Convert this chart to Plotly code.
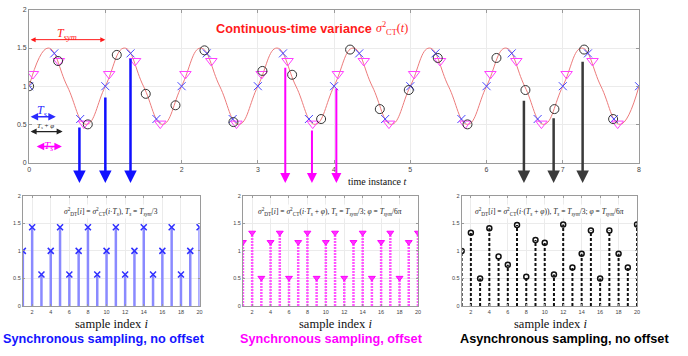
import plotly.graph_objects as go

# ---------------- data ----------------
# continuous-time variance: readings at quarter periods (T_sym = 1)
ct_t = [0, 0.25, 0.5, 0.75, 1, 1.25, 1.5, 1.75, 2, 2.25, 2.5, 2.75, 3, 3.25, 3.5, 3.75,
        4, 4.25, 4.5, 4.75, 5, 5.25, 5.5, 5.75, 6, 6.25, 6.5, 6.75, 7, 7.25, 7.5, 7.75, 8]
ct_v = [1, 1.5, 1, 0.5, 1, 1.5, 1, 0.5, 1, 1.5, 1, 0.5, 1, 1.5, 1, 0.5,
        1, 1.5, 1, 0.5, 1, 1.5, 1, 0.5, 1, 1.5, 1, 0.5, 1, 1.5, 1, 0.5, 1]

# synchronous sampling, no offset (blue x)
sync_t = [0, 0.33, 0.67, 1, 1.33, 1.67, 2, 2.33, 2.67, 3, 3.33, 3.67, 4, 4.33, 4.67,
          5, 5.33, 5.67, 6, 6.33, 6.67, 7, 7.33, 7.67, 8]
sync_v = [1, 1.43, 0.57, 1, 1.43, 0.57, 1, 1.43, 0.57, 1, 1.43, 0.57, 1, 1.43, 0.57,
          1, 1.43, 0.57, 1, 1.43, 0.57, 1, 1.43, 0.57, 1]

# synchronous sampling with offset (magenta triangles)
off_t = [0.05, 0.39, 0.72, 1.05, 1.39, 1.72, 2.05, 2.39, 2.72, 3.05, 3.39, 3.72,
         4.05, 4.39, 4.72, 5.05, 5.39, 5.72, 6.05, 6.39, 6.72, 7.05, 7.39, 7.72]
off_v = [1.16, 1.33, 0.51, 1.16, 1.33, 0.51, 1.16, 1.33, 0.51, 1.16, 1.33, 0.51,
         1.16, 1.33, 0.51, 1.16, 1.33, 0.51, 1.16, 1.33, 0.51, 1.16, 1.33, 0.51]

# asynchronous sampling (black circles)
asy_t = [0, 0.38, 0.77, 1.15, 1.53, 1.92, 2.3, 2.68, 3.06, 3.45, 3.83, 4.21, 4.6,
         4.98, 5.36, 5.75, 6.13, 6.51, 6.89, 7.28, 7.66]
asy_v = [1, 1.33, 0.5, 1.41, 0.9, 0.75, 1.47, 0.53, 1.2, 1.15, 0.57, 1.48, 0.7,
         0.95, 1.37, 0.5, 1.37, 0.95, 0.7, 1.48, 0.57]

sample_idx = [1, 2, 3, 4, 5, 6, 7, 8, 9, 10, 11, 12, 13, 14, 15, 16, 17, 18, 19, 20]

# down arrows (time, start value) from top panel to bottom panels
blue_arrow_t = [0.66, 1.0, 1.33]
blue_arrow_v = [0.48, 0.87, 1.38]
mag_arrow_t = [3.36, 3.71, 4.03]
mag_arrow_v = [1.26, 0.44, 0.99]
blk_arrow_t = [6.49, 6.88, 7.26]
blk_arrow_v = [0.83, 0.60, 1.34]
arrow_tip = -0.27

BLUE = "#2b2bff"
MAG = "#ff00ff"
BLK = "#222222"
RED = "#ff1a1a"
SERIF = "Liberation Serif, Times New Roman, serif"
SANS = "Liberation Sans, Arial, sans-serif"

fig = go.Figure()

# ---------------- top panel ----------------
fig.add_trace(go.Scatter(x=ct_t, y=ct_v, mode="lines", line=dict(color="#ec7b7b", width=1, shape="spline", smoothing=1.3),
                         xaxis="x", yaxis="y", hoverinfo="skip"))
fig.add_trace(go.Scatter(x=sync_t, y=sync_v, mode="markers", xaxis="x", yaxis="y",
                         marker=dict(symbol="x-thin-open", size=8, color="#4646ff",
                                     line=dict(color="#4646ff", width=1))))
fig.add_trace(go.Scatter(x=off_t, y=off_v, mode="markers", xaxis="x", yaxis="y",
                         marker=dict(symbol="triangle-down-open", size=10, color="#ff40ff",
                                     line=dict(color="#ff40ff", width=1))))
fig.add_trace(go.Scatter(x=asy_t, y=asy_v, mode="markers", xaxis="x", yaxis="y",
                         marker=dict(symbol="circle-open", size=9, color="#333333",
                                     line=dict(color="#333333", width=1))))


def stems(xs, ys):
    sx, sy = [], []
    for a, b in zip(xs, ys):
        sx += [a, a, None]
        sy += [0, b, None]
    return sx, sy


# ---------------- bottom panels ----------------
sx, sy = stems(sample_idx, sync_v[:20])
fig.add_trace(go.Scatter(x=sx, y=sy, mode="lines", xaxis="x2", yaxis="y2",
                         line=dict(color="#8a8aff", width=2.5)))
fig.add_trace(go.Scatter(x=sample_idx, y=sync_v[:20], mode="markers", xaxis="x2", yaxis="y2",
                         marker=dict(symbol="x-thin-open", size=6, color="#3030ff",
                                     line=dict(color="#3030ff", width=1.5))))

sx, sy = stems(sample_idx, off_v[:20])
fig.add_trace(go.Scatter(x=sx, y=sy, mode="lines", xaxis="x3", yaxis="y3",
                         line=dict(color="#ff55ff", width=2.5, dash="2px,1px")))
fig.add_trace(go.Scatter(x=sample_idx, y=off_v[:20], mode="markers", xaxis="x3", yaxis="y3",
                         marker=dict(symbol="triangle-down", size=6, color="#ff33ff",
                                     line=dict(color="#ff00ff", width=1))))

sx, sy = stems(sample_idx, asy_v[:20])
fig.add_trace(go.Scatter(x=sx, y=sy, mode="lines", xaxis="x4", yaxis="y4",
                         line=dict(color="#111111", width=2, dash="3px,2px")))
fig.add_trace(go.Scatter(x=sample_idx, y=asy_v[:20], mode="markers", xaxis="x4", yaxis="y4",
                         marker=dict(symbol="circle-open", size=5, color="#111111",
                                     line=dict(color="#111111", width=1.5))))

W, H = 688, 356


def px(x0, x1):
    return [x0 / W, x1 / W]


def py(ytop, ybot):
    return [1 - ybot / H, 1 - ytop / H]


axis_common = dict(showline=True, mirror="ticks", linecolor="#9a9a9a", linewidth=1,
                   ticks="inside", tickcolor="#9a9a9a", showgrid=True, gridcolor="#ebebeb",
                   zeroline=False, tickfont=dict(size=7, color="#444444", family=SANS))

layout = dict(
    width=W, height=H, margin=dict(l=0, r=0, t=0, b=0),
    paper_bgcolor="white", plot_bgcolor="white", showlegend=False,
    xaxis=dict(domain=px(27.3, 641.7), range=[0, 8], dtick=1, ticklen=3, anchor="y", **axis_common),
    yaxis=dict(domain=py(6, 161.7), range=[0, 2], dtick=0.5, ticklen=3, anchor="x", **axis_common),
)
bottom_x = [(21, 199), (242.7, 419), (463, 639.7)]
for k, (a, b) in enumerate(bottom_x, start=2):
    ac = dict(axis_common)
    ac["tickfont"] = dict(size=5.5, color="#444444", family=SANS)
    layout[f"xaxis{k}"] = dict(domain=px(a, b), range=[1, 20], tickvals=[2, 4, 6, 8, 10, 12, 14, 16, 18, 20],
                               ticklen=2, anchor=f"y{k}", **ac)
    layout[f"yaxis{k}"] = dict(domain=py(195.7, 308), range=[0, 2], dtick=0.5, ticklen=2,
                               anchor=f"x{k}", **ac)
fig.update_layout(**layout)

ann = []


def arrow(t, v, color, width):
    ann.append(dict(x=t, y=arrow_tip, ax=t, ay=v, xref="x", yref="y", axref="x", ayref="y",
                    showarrow=True, arrowhead=2, arrowsize=1, arrowwidth=width, arrowcolor=color, text=""))


for t, v in zip(blue_arrow_t, blue_arrow_v):
    arrow(t, v, "#1010ff", 2.5)
for t, v in zip(mag_arrow_t, mag_arrow_v):
    arrow(t, v, MAG, 2)
for t, v in zip(blk_arrow_t, blk_arrow_v):
    arrow(t, v, "#3a3a3a", 2.5)


def dbl_arrow(x0, x1, y, color, width=1.5):
    ann.append(dict(x=x1, y=y, ax=x0, ay=y, xref="x", yref="y", axref="x", ayref="y", showarrow=True,
                    arrowhead=2, startarrowhead=2, arrowside="end+start", arrowsize=1, startarrowsize=1,
                    arrowwidth=width, arrowcolor=color, text=""))


dbl_arrow(0.0, 1.0, 1.61, RED, 1)
dbl_arrow(0.0, 0.35, 0.60, BLUE, 1.5)
dbl_arrow(0.0, 0.44, 0.405, BLK, 1.2)
dbl_arrow(0.08, 0.43, 0.21, MAG, 1.5)

ann += [
    dict(x=0.5, y=1.69, xref="x", yref="y", text="<i>T<sub>sym</sub></i>", showarrow=False,
         font=dict(family=SERIF, size=12, color=RED)),
    dict(x=0.17, y=0.67, xref="x", yref="y", text="<i>T<sub>s</sub></i>", showarrow=False,
         font=dict(family=SERIF, size=12, color=BLUE)),
    dict(x=0.22, y=0.48, xref="x", yref="y", text="<i>T<sub>s</sub></i> + <i>φ</i>", showarrow=False,
         font=dict(family=SERIF, size=7, color=BLK)),
    dict(x=0.25, y=0.22, xref="x", yref="y", text="<i>T<sub>s</sub></i>", showarrow=False,
         font=dict(family=SERIF, size=11, color=MAG)),
    dict(x=294 / W, y=1 - 25 / H, xref="paper", yref="paper", xanchor="center", yanchor="middle",
         text="<b>Continuous-time variance</b>",
         showarrow=False, font=dict(family=SANS, size=12.7, color=RED)),
    dict(x=375 / W, y=1 - 25 / H, xref="paper", yref="paper", xanchor="left", yanchor="middle",
         text="<i>σ</i><sup>2</sup><sub>CT</sub>(<i>t</i>)", showarrow=False,
         font=dict(family=SERIF, size=12, color=RED)),
    dict(x=378 / W, y=1 - 181 / H, xref="paper", yref="paper", xanchor="center", yanchor="middle",
         text="time instance <i>t</i>",
         showarrow=False, font=dict(family=SERIF, size=10, color="#111111")),
]

formulas = [
    "<i>σ</i><sup>2</sup><sub>DT</sub>[<i>i</i>] = <i>σ</i><sup>2</sup><sub>CT</sub>(<i>i</i>·<i>T<sub>s</sub></i>), "
    "<i>T<sub>s</sub></i> = <i>T<sub>sym</sub></i>/3",
    "<i>σ</i><sup>2</sup><sub>DT</sub>[<i>i</i>] = <i>σ</i><sup>2</sup><sub>CT</sub>(<i>i</i>·<i>T<sub>s</sub></i> + <i>φ</i>), "
    "<i>T<sub>s</sub></i> = <i>T<sub>sym</sub></i>/3; <i>φ</i> = <i>T<sub>sym</sub></i>/6<i>π</i>",
    "<i>σ</i><sup>2</sup><sub>DT</sub>[<i>i</i>] = <i>σ</i><sup>2</sup><sub>CT</sub>(<i>i</i>·(<i>T<sub>s</sub></i> + <i>φ</i>)), "
    "<i>T<sub>s</sub></i> = <i>T<sub>sym</sub></i>/3; <i>φ</i> = <i>T<sub>sym</sub></i>/6<i>π</i>",
]
titles = ["Synchronous sampling, no offset", "Synchronous sampling, offset", "Asynchronous sampling, no offset"]
title_colors = ["#1414ff", "#ff00ff", "#000000"]
title_x = [103, 332, 567]
label_x = [110, 336, 553]
for k, (a, b) in enumerate(bottom_x):
    ann.append(dict(x=(a + b) / 2 / W, y=1 - 212 / H, xref="paper", yref="paper", xanchor="center",
                    yanchor="middle", text=formulas[k], bgcolor="rgba(255,255,255,0.85)",
                    showarrow=False, font=dict(family=SERIF, size=7.5, color="#222222")))
    ann.append(dict(x=label_x[k] / W, y=1 - 326 / H, xref="paper", yref="paper", xanchor="center",
                    yanchor="middle", text="sample index <i>i</i>",
                    showarrow=False, font=dict(family=SERIF, size=12.5, color="#111111")))
    ann.append(dict(x=title_x[k] / W, y=1 - 342 / H, xref="paper", yref="paper", xanchor="center",
                    yanchor="middle", text=f"<b>{titles[k]}</b>",
                    showarrow=False, font=dict(family=SANS, size=12.7, color=title_colors[k])))

fig.update_layout(annotations=ann)
fig.write_html("out.html")
